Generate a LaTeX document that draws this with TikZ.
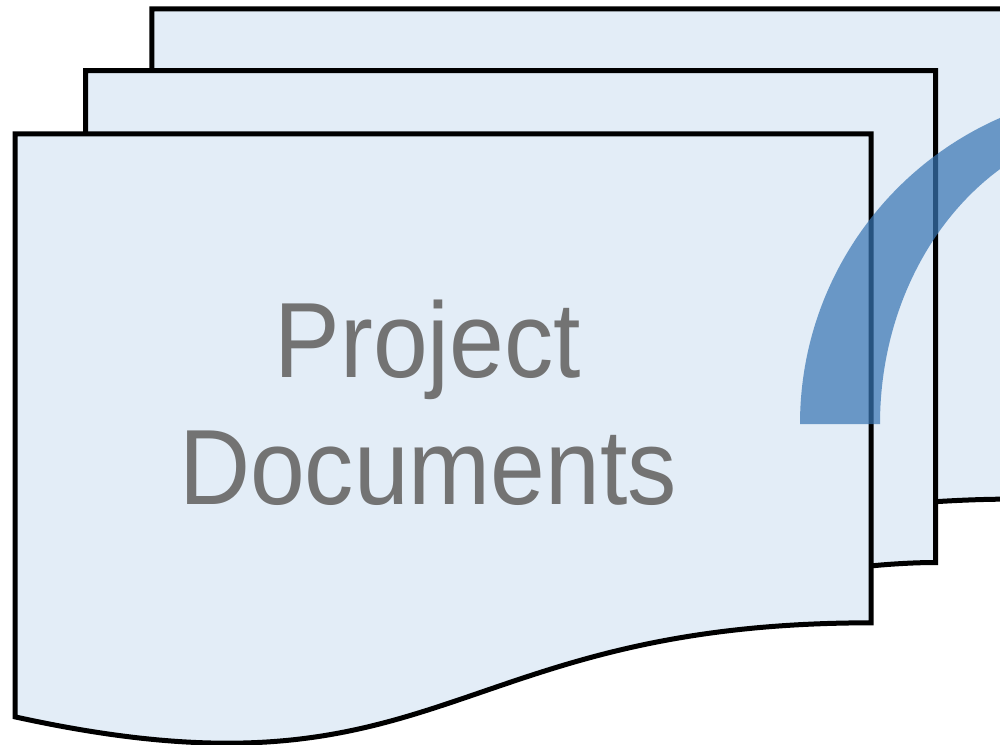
\documentclass[tikz,border=0pt]{standalone}
\usepackage{fontspec}
\setmainfont{Liberation Sans}
\definecolor{docfill}{RGB}{227,237,247}
\definecolor{arcblue}{RGB}{56,117,179}
\definecolor{txtgray}{RGB}{115,115,115}
\tikzset{
  docshape/.style={draw=black, fill=docfill, line width=5pt, line join=miter},
  arcshape/.style={fill=arcblue, fill opacity=0.71, draw=none},
  doctext/.style={text=txtgray, font=\fontsize{107}{127}\selectfont, inner sep=0pt, anchor=base, xscale=0.92, transform shape}
}
\begin{document}
\begin{tikzpicture}[x=1pt,y=1pt]
\useasboundingbox (0,0) rectangle (1000,-744);
\fill[white] (0,0) rectangle (1000,-744);
\clip (0,0) rectangle (1000,-744);
\begin{scope}[shift={(15pt,-8.75pt)}, x=0.04603pt, y=-0.03408pt]
  % back document
  \draw[docshape] (2972,1815) -- (2972,0) -- (21600,0) -- (21600,14392)
     .. controls (20800,14392) and (20000,14467) .. (20000,14467) -- (2972,14467) -- cycle;
  % middle document
  \draw[docshape] (1532,3675) -- (1532,1815) -- (20000,1815) -- (20000,16252)
     .. controls (19298,16252) and (18595,16352) .. (18595,16352) -- (1532,16352) -- cycle;
  % front document
  \draw[docshape] (0,3675) -- (18595,3675) -- (18595,18022)
     .. controls (9298,18022) and (9298,23542) .. (0,20782) -- cycle;
\end{scope}
\node[doctext] (t1) at (428,-377) {Project};
\node[doctext] (t2) at (428,-504) {Documents};
% blue arc
\fill[arcshape] (800,-424) arc[start angle=180, end angle=90, radius=334]
   -- (1134,-124) arc[start angle=90, end angle=180, x radius=254, y radius=300] -- cycle;
\end{tikzpicture}
\end{document}
